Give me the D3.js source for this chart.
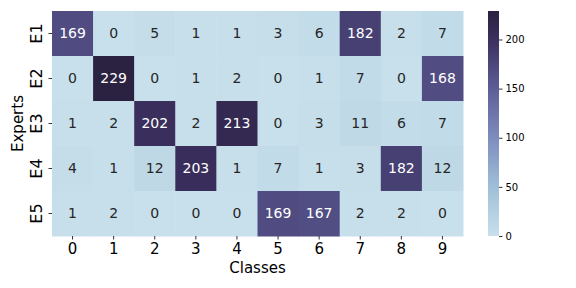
<!DOCTYPE html>
<html lang="en">
<head>
  <meta charset="UTF-8">
  <title>Experts vs Classes heatmap</title>
  <script src="https://d3js.org/d3.v7.min.js"></script>
  <style>
    body { margin: 0; background: #fff; }
    text { font-family: "DejaVu Sans", sans-serif; }
  </style>
</head>
<body>
  <svg width="576" height="288"></svg>

  <script>
    // Data
    const experts = ["E1", "E2", "E3", "E4", "E5"];
    const classes = ["0", "1", "2", "3", "4", "5", "6", "7", "8", "9"];
    const counts = [
      [169, 0, 5, 1, 1, 3, 6, 182, 2, 7],
      [0, 229, 0, 1, 2, 0, 1, 7, 0, 168],
      [1, 2, 202, 2, 213, 0, 3, 11, 6, 7],
      [4, 1, 12, 203, 1, 7, 1, 3, 182, 12],
      [1, 2, 0, 0, 0, 169, 167, 2, 2, 0]
    ];
    const colorTicks = [0, 50, 100, 150, 200];

    const svg = d3.select("svg");

    // Heatmap area
    const plotLeft = 52, plotTop = 11, plotRight = 463, plotBottom = 236;

    const x = d3.scaleBand().domain(classes).range([plotLeft, plotRight]);
    const y = d3.scaleBand().domain(experts).range([plotTop, plotBottom]);

    const vmax = d3.max(counts.flat());
    const color = d3.scaleLinear()
      .domain([0, 50, 100, 150, 200, vmax])
      .range(["#c8e0eb", "#9fbfd8", "#7d8cbd", "#5d5e97", "#3b2f5e", "#2b2140"])
      .clamp(true);

    const cells = [];
    counts.forEach((row, i) => row.forEach((v, j) => {
      cells.push({ e: experts[i], c: classes[j], v: v });
    }));

    svg.append("g").selectAll("rect")
      .data(cells)
      .enter().append("rect")
      .attr("x", d => x(d.c))
      .attr("y", d => y(d.e))
      .attr("width", x.bandwidth() + 0.5)
      .attr("height", y.bandwidth() + 0.5)
      .attr("fill", d => color(d.v));

    svg.append("g").selectAll("text")
      .data(cells)
      .enter().append("text")
      .attr("x", d => x(d.c) + x.bandwidth() / 2)
      .attr("y", d => y(d.e) + y.bandwidth() / 2)
      .attr("text-anchor", "middle")
      .attr("dy", "0.33em")
      .style("font-size", "14px")
      .style("fill", d => d.v > 100 ? "#ffffff" : "#262626")
      .text(d => d.v);

    // Axes
    const xAxis = svg.append("g")
      .attr("transform", `translate(0,${plotBottom})`)
      .call(d3.axisBottom(x).tickSize(3.5).tickPadding(4));
    xAxis.select(".domain").remove();
    xAxis.selectAll("text").style("font-size", "15px").style("fill", "#000");
    xAxis.selectAll("line").attr("stroke", "#333");

    const yAxis = svg.append("g")
      .attr("transform", `translate(${plotLeft},0)`)
      .call(d3.axisLeft(y).tickSize(3.5).tickPadding(4));
    yAxis.select(".domain").remove();
    yAxis.selectAll("line").attr("stroke", "#333");
    yAxis.selectAll("text")
      .style("font-size", "16px")
      .style("fill", "#000")
      .attr("text-anchor", "middle")
      .attr("x", null)
      .attr("transform", "translate(-15.5,0) rotate(-90)")
      .attr("y", 0)
      .attr("dy", "0.36em");

    svg.append("text")
      .attr("x", (plotLeft + plotRight) / 2)
      .attr("y", 273)
      .attr("text-anchor", "middle")
      .style("font-size", "15px")
      .text("Classes");

    svg.append("text")
      .attr("transform", `translate(23,${(plotTop + plotBottom) / 2}) rotate(-90)`)
      .attr("text-anchor", "middle")
      .style("font-size", "15px")
      .text("Experts");

    // Colorbar
    const cbLeft = 488, cbWidth = 11;
    const cbScale = d3.scaleLinear().domain([0, vmax]).range([plotBottom, plotTop]);
    const defs = svg.append("defs");
    const grad = defs.append("linearGradient")
      .attr("id", "cbar")
      .attr("x1", "0").attr("y1", "1").attr("x2", "0").attr("y2", "0");
    d3.range(0, 1.0001, 0.05).forEach(t => {
      grad.append("stop")
        .attr("offset", t)
        .attr("stop-color", color(t * vmax));
    });
    svg.append("rect")
      .attr("x", cbLeft)
      .attr("y", plotTop)
      .attr("width", cbWidth)
      .attr("height", plotBottom - plotTop)
      .attr("fill", "url(#cbar)");

    const cbAxis = svg.append("g")
      .attr("transform", `translate(${cbLeft + cbWidth},0)`)
      .call(d3.axisRight(cbScale).tickValues(colorTicks).tickSize(3.5).tickPadding(3));
    cbAxis.select(".domain").remove();
    cbAxis.selectAll("line").attr("stroke", "#333");
    cbAxis.selectAll("text").style("font-size", "10px").style("fill", "#000");
  </script>
</body>
</html>
